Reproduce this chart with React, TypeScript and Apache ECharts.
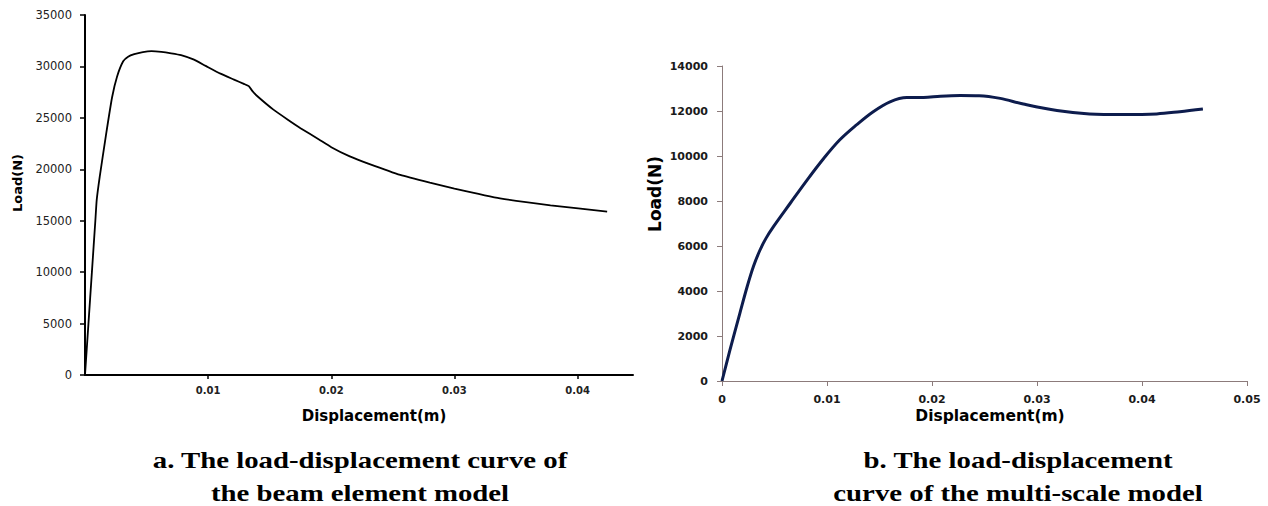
import React, { useEffect, useRef } from "react";
import * as echarts from "echarts";

// Chart a: beam element model (displacement m, load N)
const beamDisp = [0, 0.00028, 0.00056, 0.00084, 0.00095, 0.0012, 0.0017, 0.0022, 0.0026, 0.0031, 0.0035, 0.004, 0.0047, 0.0054, 0.0062, 0.007, 0.0078, 0.0088, 0.0098, 0.011, 0.0121, 0.0129, 0.0133, 0.0136, 0.014, 0.0153, 0.0165, 0.0175, 0.019, 0.02, 0.0215, 0.023, 0.0256, 0.028, 0.03, 0.0337, 0.0378, 0.0424];
const beamLoad = [0, 5000, 10000, 15000, 17000, 19300, 23300, 27000, 29000, 30500, 30950, 31200, 31400, 31490, 31420, 31280, 31100, 30680, 30050, 29300, 28720, 28300, 28080, 27600, 27100, 25800, 24800, 24000, 22900, 22150, 21250, 20550, 19450, 18700, 18130, 17180, 16500, 15880];

// Chart b: multi-scale model
const msDisp = [0, 0.00076, 0.0017, 0.0024, 0.003, 0.0036, 0.0042, 0.0049, 0.0065, 0.0081, 0.0097, 0.0112, 0.0128, 0.0144, 0.016, 0.0176, 0.0192, 0.0208, 0.0227, 0.0245, 0.0265, 0.0287, 0.0319, 0.035, 0.0382, 0.0414, 0.0436, 0.0458];
const msLoad = [0, 1380, 3010, 4200, 5100, 5800, 6350, 6860, 7900, 8930, 9900, 10710, 11380, 11970, 12410, 12600, 12600, 12660, 12690, 12680, 12560, 12310, 12020, 11870, 11840, 11870, 11970, 12090];

const beamXTicks = [0.01, 0.02, 0.03, 0.04];
const xTitle = "Displacement(m)";
const yTitle = "Load(N)";
const captionA = ["a. The load-displacement curve of", "the beam element model"];
const captionB = ["b. The load-displacement", "curve of the multi-scale model"];

export default function App() {
  const ref = useRef<HTMLDivElement>(null);
  useEffect(() => {
    if (!ref.current) return;
    const chart = echarts.init(ref.current, null, { renderer: "svg" });
    const beamData = beamDisp.map((d, i) => [d, beamLoad[i]]);
    const msData = msDisp.map((d, i) => [d, msLoad[i]]);
    const plain = (v: number) => String(v);
    const capStyle = {
      fontFamily: "'Liberation Serif', 'Times New Roman', Times, serif",
      fontWeight: "bold",
      fontSize: 24,
      fill: "#000",
      textAlign: "center",
      textVerticalAlign: "middle",
    };
    const capText = (text: string, x: number, y: number) => ({
      type: "text",
      x,
      y,
      scaleX: 1.2,
      style: { ...capStyle, text },
    });
    const titleText = (text: string, x: number, y: number, size: number, rot = 0) => ({
      type: "text",
      x,
      y,
      rotation: rot,
      style: {
        text,
        fontFamily: "DejaVu Sans",
        fontWeight: "bold",
        fontSize: size,
        fill: "#000",
        textAlign: "center",
        textVerticalAlign: "middle",
      },
    });
    chart.setOption({
      animation: false,
      backgroundColor: "#fff",
      grid: [
        { left: 85, top: 15, width: 548, height: 360 },
        { left: 722, top: 66, width: 525, height: 315 },
      ],
      xAxis: [
        {
          type: "value",
          gridIndex: 0,
          min: 0,
          max: 0.0445,
          interval: 0.01,
          splitLine: { show: false },
          axisLine: { lineStyle: { color: "#000", width: 2 } },
          axisTick: { show: true, length: 4, customValues: beamXTicks, lineStyle: { color: "#000", width: 1.5 } },
          axisLabel: {
            customValues: beamXTicks,
            formatter: plain,
            margin: 10,
            fontFamily: "DejaVu Sans",
            fontWeight: "bold",
            fontSize: 10,
            color: "#222",
          },
        },
        {
          type: "value",
          gridIndex: 1,
          min: 0,
          max: 0.05,
          interval: 0.01,
          splitLine: { show: false },
          axisLine: { lineStyle: { color: "#8c7b7b", width: 1 } },
          axisTick: { show: true, length: 5, lineStyle: { color: "#8c7b7b" } },
          axisLabel: {
            formatter: plain,
            margin: 13,
            fontFamily: "DejaVu Sans",
            fontWeight: "bold",
            fontSize: 11,
            color: "#1a1a1a",
          },
        },
      ],
      yAxis: [
        {
          type: "value",
          gridIndex: 0,
          min: 0,
          max: 35000,
          interval: 5000,
          splitLine: { show: false },
          axisLine: { show: true, lineStyle: { color: "#000", width: 2 } },
          axisTick: { show: true, length: 5, lineStyle: { color: "#000", width: 1.5 } },
          axisLabel: {
            formatter: plain,
            margin: 13,
            fontFamily: "DejaVu Sans",
            fontSize: 11.5,
            color: "#222",
          },
        },
        {
          type: "value",
          gridIndex: 1,
          min: 0,
          max: 14000,
          interval: 2000,
          splitLine: { show: false },
          axisLine: { show: true, lineStyle: { color: "#8c7b7b", width: 1 } },
          axisTick: { show: true, length: 5, lineStyle: { color: "#8c7b7b" } },
          axisLabel: {
            formatter: plain,
            margin: 14,
            fontFamily: "DejaVu Sans",
            fontWeight: "bold",
            fontSize: 11,
            color: "#1a1a1a",
          },
        },
      ],
      series: [
        {
          type: "line",
          xAxisIndex: 0,
          yAxisIndex: 0,
          data: beamData,
          showSymbol: false,
          smooth: 0.15,
          lineStyle: { color: "#000", width: 1.8 },
        },
        {
          type: "line",
          xAxisIndex: 1,
          yAxisIndex: 1,
          data: msData,
          showSymbol: false,
          smooth: 0.35,
          lineStyle: { color: "#0d1c4d", width: 3 },
        },
      ],
      graphic: [
        titleText(xTitle, 374, 416, 15),
        titleText(xTitle, 990, 416, 15.5),
        titleText(yTitle, 17, 183, 13, Math.PI / 2),
        titleText(yTitle, 655, 194, 17, Math.PI / 2),
        capText(captionA[0], 360, 460),
        capText(captionA[1], 360, 493),
        capText(captionB[0], 1018, 460),
        capText(captionB[1], 1018, 493),
      ],
    });
    return () => chart.dispose();
  }, []);
  return (
    <div
      ref={ref}
      style={{ position: "absolute", left: 0, top: 0, width: 1268, height: 506, background: "#fff" }}
    />
  );
}
